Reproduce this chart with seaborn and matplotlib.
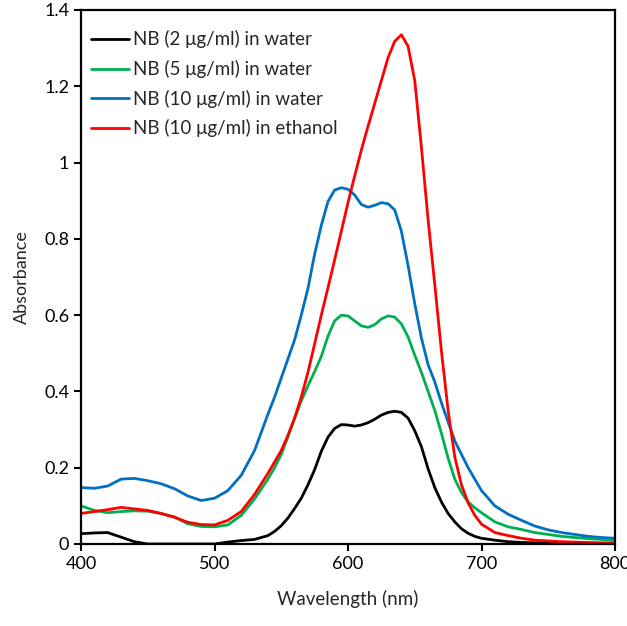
import numpy as np
import pandas as pd
import matplotlib
matplotlib.use("Agg")
import matplotlib.pyplot as plt
import seaborn as sns

wavelength = [400, 410, 420, 430, 440, 450, 460, 470, 480, 490, 500, 510, 520, 530,
              540, 545, 550, 555, 560, 565, 570, 575, 580, 585, 590, 595, 600, 605, 610,
              615, 620, 625, 630, 635, 640, 645, 650, 655, 660, 665, 670, 675, 680, 685,
              690, 695, 700,
              710, 720, 730, 740, 750, 760, 770, 780, 790, 800]

nb2_water = [0.027, 0.029, 0.030, 0.018, 0.006, 0.0, 0.0, 0.0, 0.0, 0.0, 0.0, 0.005, 0.009, 0.012,
             0.022, 0.033, 0.048, 0.068, 0.093, 0.12, 0.155, 0.195, 0.243, 0.28, 0.303, 0.313, 0.312,
             0.309, 0.312, 0.318, 0.327, 0.338, 0.345, 0.348, 0.345, 0.33, 0.297, 0.255, 0.197, 0.148,
             0.11, 0.08, 0.058, 0.04, 0.028, 0.02, 0.015,
             0.01, 0.006, 0.004, 0.003, 0.002, 0.001, 0.001, 0.0, 0.0, 0.0]

nb5_water = [0.10, 0.088, 0.082, 0.085, 0.087, 0.086, 0.08, 0.071, 0.053, 0.046, 0.045, 0.05, 0.075, 0.118,
             0.17, 0.2, 0.235, 0.28, 0.33, 0.375, 0.415, 0.452, 0.492, 0.545, 0.585, 0.600, 0.598,
             0.585, 0.572, 0.568, 0.575, 0.59, 0.598, 0.595, 0.577, 0.543, 0.495, 0.45, 0.40, 0.35,
             0.29, 0.225, 0.17, 0.135, 0.11, 0.095, 0.082,
             0.058, 0.045, 0.038, 0.03, 0.025, 0.02, 0.017, 0.014, 0.012, 0.01]

nb10_water = [0.148, 0.146, 0.152, 0.17, 0.172, 0.166, 0.158, 0.145, 0.126, 0.114, 0.12, 0.14, 0.18, 0.245,
              0.34, 0.385, 0.435, 0.485, 0.535, 0.60, 0.67, 0.76, 0.835, 0.898, 0.928, 0.934, 0.93,
              0.915, 0.89, 0.883, 0.888, 0.895, 0.892, 0.876, 0.82, 0.73, 0.63, 0.54, 0.47, 0.425,
              0.37, 0.32, 0.27, 0.235, 0.2, 0.17, 0.14,
              0.1, 0.078, 0.062, 0.047, 0.037, 0.03, 0.025, 0.02, 0.017, 0.015]

nb10_ethanol = [0.08, 0.085, 0.09, 0.096, 0.092, 0.088, 0.08, 0.07, 0.057, 0.051, 0.05, 0.062, 0.085, 0.13,
                0.185, 0.215, 0.245, 0.285, 0.33, 0.385, 0.45, 0.525, 0.6, 0.672, 0.745, 0.82, 0.895,
                0.965, 1.033, 1.095, 1.155, 1.215, 1.275, 1.318, 1.335, 1.305, 1.215, 1.04, 0.85, 0.68,
                0.505, 0.35, 0.228, 0.155, 0.108, 0.075, 0.052,
                0.03, 0.022, 0.015, 0.01, 0.008, 0.006, 0.005, 0.004, 0.003, 0.003]

labels = ["NB (2 μg/ml) in water", "NB (5 μg/ml) in water",
          "NB (10 μg/ml) in water", "NB (10 μg/ml) in ethanol"]
colors = ["#000000", "#00B050", "#0070C0", "#FF0000"]
x_ticks = [400, 500, 600, 700, 800]
y_ticks = [0, 0.2, 0.4, 0.6, 0.8, 1.0, 1.2, 1.4]
y_tick_labels = ["0", "0.2", "0.4", "0.6", "0.8", "1", "1.2", "1.4"]

series = [nb2_water, nb5_water, nb10_water, nb10_ethanol]
frames = []
for lab, vals in zip(labels, series):
    frames.append(pd.DataFrame({"Wavelength": wavelength, "Absorbance": vals, "Sample": lab}))
df = pd.concat(frames, ignore_index=True)

sns.set_style("ticks")
plt.rcParams['font.family'] = ['Lato', 'DejaVu Sans']

fig = plt.figure(figsize=(6.27, 6.26), dpi=100)
ax = fig.add_axes([81/627, 1-544/626, (615-81)/627, (544-10)/626])

sns.lineplot(data=df, x="Wavelength", y="Absorbance", hue="Sample",
             palette=dict(zip(labels, colors)), hue_order=labels,
             linewidth=2.0, ax=ax, sort=True, estimator=None)

ax.set_xlim(400, 800)
ax.set_ylim(0, 1.4)
ax.set_xticks(x_ticks)
ax.set_yticks(y_ticks)
ax.set_yticklabels(y_tick_labels)
ax.tick_params(axis='both', labelsize=13, length=5, width=1.5, colors='black', direction='out')
for sp in ax.spines.values():
    sp.set_visible(True)
    sp.set_linewidth(1.6)
    sp.set_color('black')
ax.set_xlabel("Wavelength (nm)", fontsize=13.5, labelpad=13)
ax.set_ylabel("Absorbance", fontsize=13, labelpad=10)

leg = ax.legend(loc='upper left', frameon=False, fontsize=13.5, handlelength=2.0,
                handletextpad=0.25, labelspacing=0.62, borderaxespad=0.0,
                bbox_to_anchor=(0.005, 0.976))

fig.savefig("out.png", dpi=100)
